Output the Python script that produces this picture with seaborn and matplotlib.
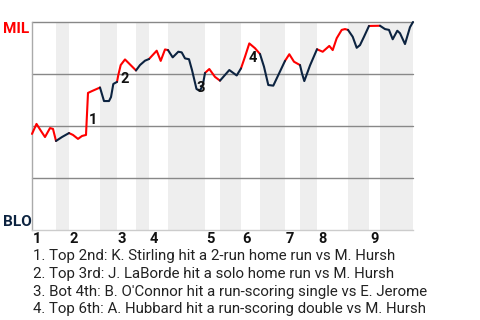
import matplotlib
matplotlib.use("Agg")
import matplotlib.pyplot as plt
import seaborn as sns
import pandas as pd

# ---- data ----
half_bounds = [0, 24, 37, 68, 85, 104, 117, 136, 173, 188, 209, 228, 253,
               268, 285, 316, 337, 348, 381]
innings = ["1", "2", "3", "4", "5", "6", "7", "8", "9"]
x_pos = [0, 4.5, 9, 13, 18, 21, 24, 30, 37, 41, 46, 50, 54, 56, 60, 68, 72, 77,
         79, 81.3, 85, 86.3, 88.7, 93, 104, 108, 113, 117, 124.7, 128.7, 133,
         136, 140.7, 146.3, 149.7, 153, 157, 160, 164.5, 168, 171, 173, 177.3,
         183, 188, 197.3, 204.7, 209, 213, 217.3, 223, 228, 232, 236.3, 241.3,
         253, 257.3, 262, 268, 270, 272.3, 278, 285, 290.7, 297.3, 300.7,
         304.7, 309.7, 313, 316, 320.7, 324.7, 328, 332, 337, 348, 353, 357,
         360.7, 365.3, 368, 373, 378, 381]
win_prob = [46.2, 51.0, 47.6, 44.7, 49.0, 48.6, 42.8, 44.7, 46.6, 45.7, 43.8,
            45.2, 45.7, 65.9, 66.8, 68.5, 62.0, 62.0, 63.9, 70.2, 71.2, 74.5,
            79.3, 82.0, 76.7, 79.3, 81.4, 82.2, 86.2, 81.3, 86.8, 86.5, 83.0,
            85.7, 85.4, 82.5, 82.1, 76.9, 67.8, 66.8, 70.2, 75.5, 77.4, 73.6,
            71.8, 76.9, 74.3, 77.7, 83.3, 89.7, 87.4, 84.6, 78.5, 69.7, 69.4,
            81.3, 84.5, 80.9, 79.3, 75.3, 71.6, 79.1, 86.9, 85.7, 88.5, 86.5,
            92.2, 96.2, 96.6, 96.2, 92.9, 87.6, 88.9, 92.9, 98.1, 98.2, 96.6,
            96.2, 91.7, 95.8, 94.6, 89.4, 97.5, 100.0]
event_labels = ["1", "2", "3", "4"]
event_x = [60.5, 93, 169, 221]
event_y = [52.9, 72.6, 68.3, 82.9]
event_text = [
    "1. Top 2nd: K. Stirling hit a 2-run home run vs M. Hursh",
    "2. Top 3rd: J. LaBorde hit a solo home run vs M. Hursh",
    "3. Bot 4th: B. O'Connor hit a run-scoring single vs E. Jerome",
    "4. Top 6th: A. Hubbard hit a run-scoring double vs M. Hursh",
]
teams = ["MIL", "BLO"]

RED = "#FF0000"
NAVY = "#0C2340"

sns.set_style("white")
plt.rcParams["font.family"] = ["Roboto", "DejaVu Sans"]

# build segmented data frame: one unit per half-inning
rows = []
for h in range(len(half_bounds) - 1):
    lo, hi = half_bounds[h], half_bounds[h + 1]
    for xv, yv in zip(x_pos, win_prob):
        if lo <= xv <= hi:
            rows.append({"x": xv, "wp": yv, "half": h,
                         "team": teams[h % 2]})
df = pd.DataFrame(rows)

fig = plt.figure(figsize=(4.8, 3.2), dpi=100)
ax = fig.add_axes([32 / 480, 1 - 230 / 320, 381 / 480, 208 / 320])

# shading for bottom halves
for h in range(1, len(half_bounds) - 1, 2):
    ax.axvspan(half_bounds[h], half_bounds[h + 1], color="#EEEEEE", lw=0, zorder=0)

for yv in [25, 50, 75, 100]:
    ax.axhline(yv, color="#888888", lw=1.0, zorder=1, clip_on=False)

sns.lineplot(data=df, x="x", y="wp", hue="team", units="half", estimator=None,
             palette={"MIL": RED, "BLO": NAVY}, lw=1.5, legend=False, ax=ax,
             zorder=3, sort=False)
for ln in ax.lines:
    ln.set_clip_on(False)
    ln.set_solid_capstyle("round")
    ln.set_solid_joinstyle("round")

ax.set_xlim(0, 381)
ax.set_ylim(0, 100)
ax.set_xticks([])
ax.set_yticks([])
ax.set_xlabel("")
ax.set_ylabel("")
for s in ["top", "right"]:
    ax.spines[s].set_visible(False)
ax.spines["left"].set_color("#AAAAAA")
ax.spines["bottom"].set_color("#CCCCCC")
ax.spines["left"].set_linewidth(1.0)
ax.spines["bottom"].set_linewidth(1.0)

# inning labels
for i, lab in enumerate(innings):
    ax.text(half_bounds[2 * i] + 1, -0.8, lab, ha="left", va="top",
            fontsize=10.5, fontweight="bold", color="#111111",
            transform=ax.transData, clip_on=False)

# event labels
for lab, xv, yv in zip(event_labels, event_x, event_y):
    ax.text(xv, yv, lab, ha="center", va="center", fontsize=10.5,
            fontweight="bold", color="#111111", zorder=4)

# team labels
fig.text(3 / 480, 1 - 22 / 320, teams[0], ha="left", va="top", fontsize=11,
         fontweight="bold", color=RED)
fig.text(3 / 480, 1 - 226.5 / 320, teams[1], ha="left", va="baseline",
         fontsize=11, fontweight="bold", color=NAVY)

# event descriptions
for i, t in enumerate(event_text):
    fig.text(33 / 480, 1 - (260 + 17.8 * i) / 320, t, ha="left",
             va="baseline", fontsize=10.8, color="#222222")

fig.savefig("out.png", dpi=100)
